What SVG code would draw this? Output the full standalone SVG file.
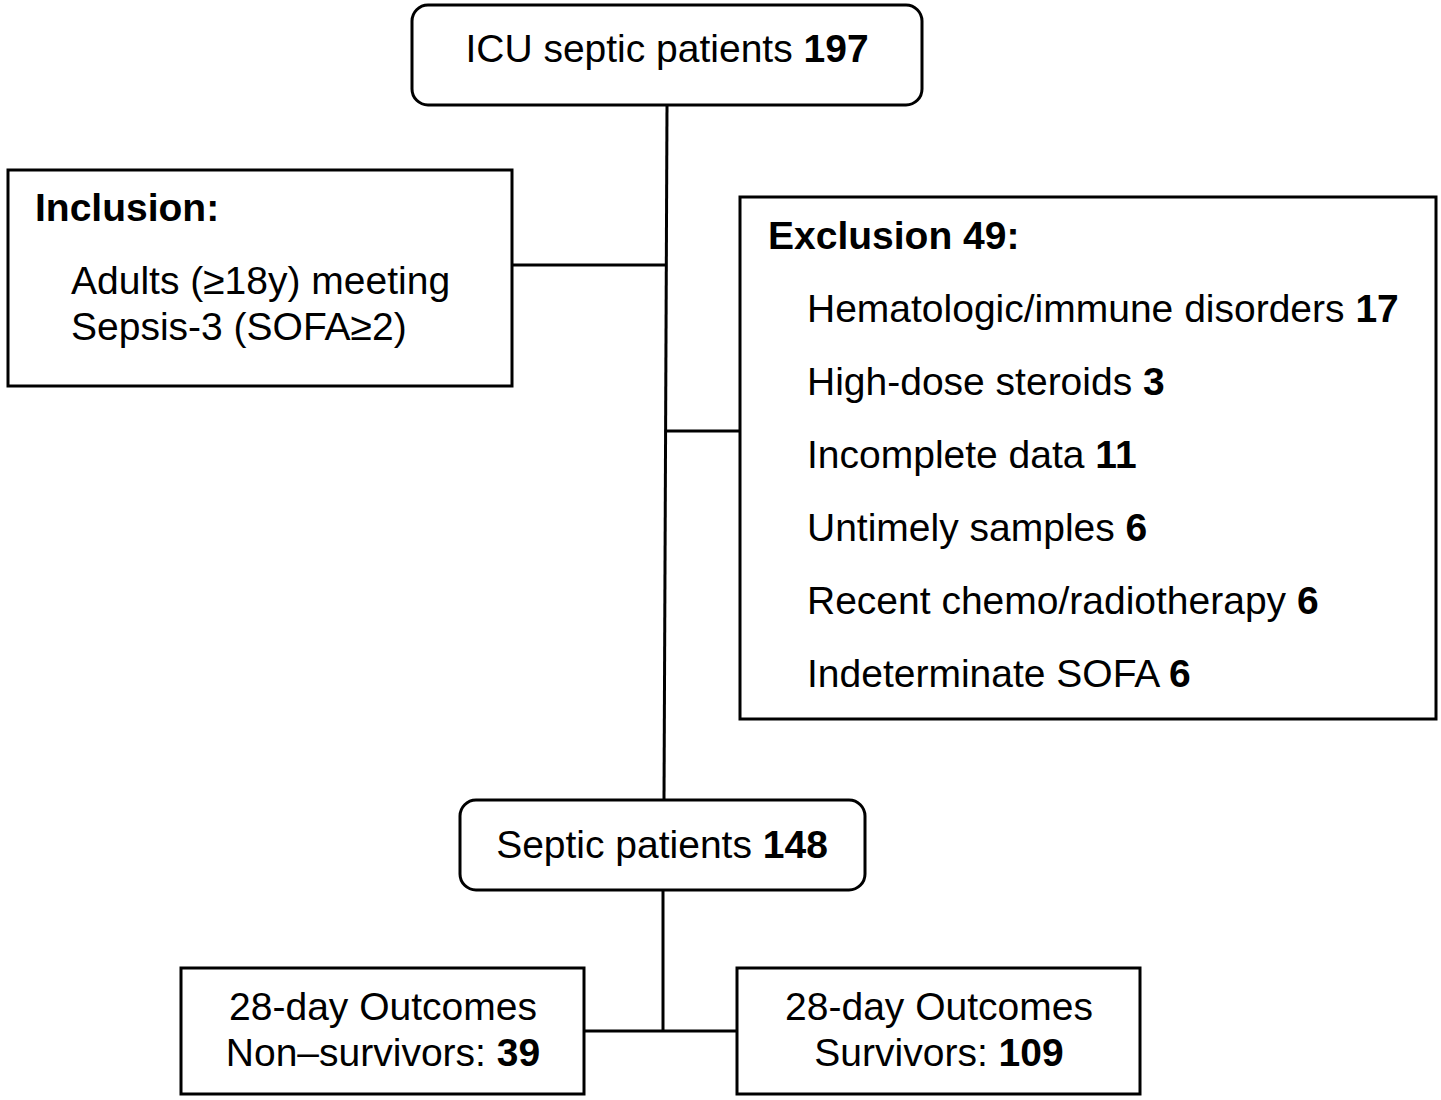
<svg xmlns="http://www.w3.org/2000/svg" width="1441" height="1100" viewBox="0 0 1441 1100">
<style>
.box{fill:#fff;stroke:#000;stroke-width:3}
.ln{fill:none;stroke:#000;stroke-width:3}
text{font-family:"Liberation Sans",Arial,sans-serif;font-size:39px;fill:#000}
.b{font-weight:bold}
.c{text-anchor:middle}
</style>
<rect width="1441" height="1100" fill="#fff"/>
<g id="connectors">
<path class="ln" d="M667,105 L664,800"/>
<path class="ln" d="M512,265 H665"/>
<path class="ln" d="M665,431 H740"/>
<path class="ln" d="M663,890 V1031"/>
<path class="ln" d="M584,1031 H737"/>
</g>
<g id="icu">
<rect class="box" x="412" y="5" width="510" height="100" rx="16"/>
<text class="c" x="667" y="62">ICU septic patients <tspan class="b">197</tspan></text>
</g>
<g id="inclusion">
<rect class="box" x="8" y="170" width="504" height="216"/>
<text class="b" x="35" y="221">Inclusion:</text>
<text x="71" y="294">Adults (≥18y) meeting</text>
<text x="71" y="340">Sepsis-3 (SOFA≥2)</text>
</g>
<g id="exclusion">
<rect class="box" x="740" y="197" width="696" height="522"/>
<text class="b" x="768" y="249">Exclusion 49:</text>
<text x="807" y="322">Hematologic/immune disorders <tspan class="b">17</tspan></text>
<text x="807" y="395">High-dose steroids <tspan class="b">3</tspan></text>
<text x="807" y="468">Incomplete data <tspan class="b">11</tspan></text>
<text x="807" y="541">Untimely samples <tspan class="b">6</tspan></text>
<text x="807" y="614">Recent chemo/radiotherapy <tspan class="b">6</tspan></text>
<text x="807" y="687">Indeterminate SOFA <tspan class="b">6</tspan></text>
</g>
<g id="septic">
<rect class="box" x="460" y="800" width="405" height="90" rx="16"/>
<text class="c" x="662" y="858">Septic patients <tspan class="b">148</tspan></text>
</g>
<g id="nonsurvivors">
<rect class="box" x="181" y="968" width="403" height="126"/>
<text class="c" x="383" y="1020">28-day Outcomes</text>
<text class="c" x="383" y="1066">Non–survivors: <tspan class="b">39</tspan></text>
</g>
<g id="survivors">
<rect class="box" x="737" y="968" width="403" height="126"/>
<text class="c" x="939" y="1020">28-day Outcomes</text>
<text class="c" x="939" y="1066">Survivors: <tspan class="b">109</tspan></text>
</g>
</svg>
